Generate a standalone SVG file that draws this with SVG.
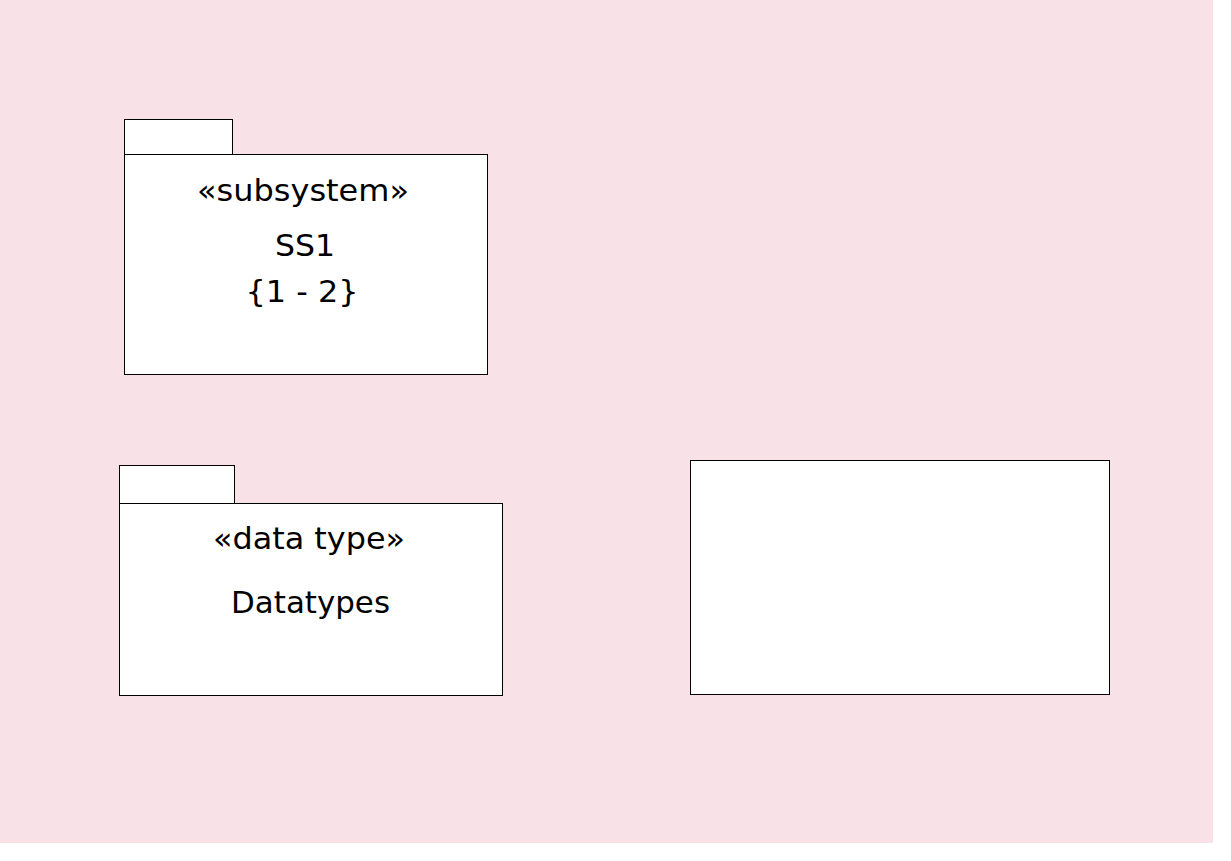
<svg xmlns="http://www.w3.org/2000/svg" width="1231" height="861" viewBox="0 0 1231 861">
<style>
.box{fill:#fff;stroke:#000;stroke-width:1}
.t{font-family:"DejaVu Sans","Liberation Sans",sans-serif;font-size:31px;fill:#000;text-anchor:middle}
</style>
<rect x="0" y="0" width="1231" height="861" fill="#fff"/>
<rect x="0" y="0" width="1213" height="843" fill="#F9E2E7"/>
<g id="ss1">
<rect class="box" x="124.5" y="119.5" width="108" height="35"/>
<rect class="box" x="124.5" y="154.5" width="363" height="220"/>
<text class="t" x="303" y="201" textLength="212" lengthAdjust="spacingAndGlyphs">«subsystem»</text>
<text class="t" x="305" y="256" textLength="60" lengthAdjust="spacingAndGlyphs">SS1</text>
<text class="t" x="302" y="302" textLength="113" lengthAdjust="spacingAndGlyphs">{1 - 2}</text>
</g>
<g id="datatypes">
<rect class="box" x="119.5" y="465.5" width="115" height="38"/>
<rect class="box" x="119.5" y="503.5" width="383" height="192"/>
<text class="t" x="309" y="549" textLength="192" lengthAdjust="spacingAndGlyphs">«data type»</text>
<text class="t" x="310.5" y="613" textLength="159" lengthAdjust="spacingAndGlyphs">Datatypes</text>
</g>
<g id="rect1">
<rect class="box" x="690.5" y="460.5" width="419" height="234"/>
</g>
<g id="connectors"></g>
</svg>
